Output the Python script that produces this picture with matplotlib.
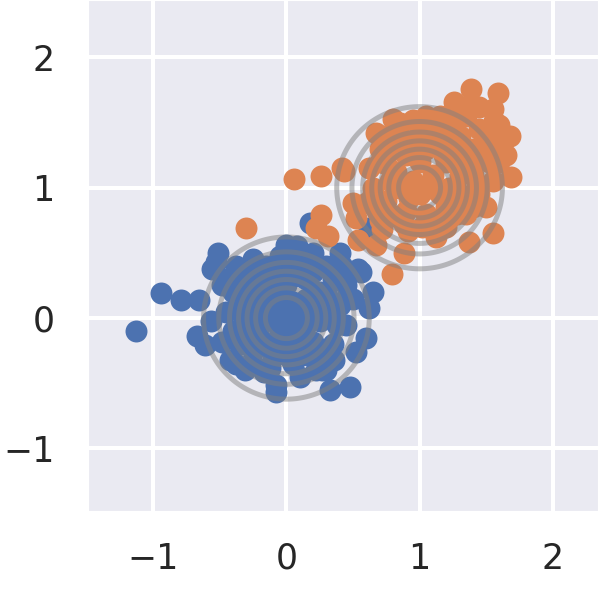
import numpy as np
import matplotlib
matplotlib.use("Agg")
import matplotlib.pyplot as plt
import seaborn as sns

sns.set_style("darkgrid")

# cluster 1 (blue) around (0, 0)
blue_x = [-1.13, -0.94, -0.79, -0.66, -0.56, -0.51, -0.53, -0.57, -0.67, -0.61,
          -0.48, -0.42, -0.31, -0.17, -0.08, -0.08, 0.33, 0.48, 0.65, 0.60,
          0.52, 0.62, 0.56, 0.00, 0.20, 0.18, 0.62, 0.40, 0.54, 0.36,
          0.27, -0.35, -0.25, -0.15, 0.10, 0.30, 0.45, 0.40, 0.45, 0.35,
          0.20, 0.05, -0.10, -0.25, -0.40, -0.45, -0.40, -0.20, -0.10, 0.05,
          0.15, 0.25, 0.15, 0.10, -0.05, -0.20, -0.32, -0.30, 0.00, 0.30,
          -0.15, 0.00, -0.05, 0.15, 0.35, -0.45, -0.35, 0.10, -0.05, 0.05,
          0.45, -0.25, 0.28,
          -0.30, -0.20, -0.10, 0.00, 0.10, 0.20, 0.30, -0.35, -0.25, -0.15,
          -0.05, 0.05, 0.15, 0.25, 0.35, -0.30, -0.20, -0.10, 0.00, 0.10,
          0.20, 0.30, -0.25, -0.12, 0.02, 0.12, 0.22, 0.38, -0.38, 0.42,
          -0.48, -0.38, 0.50, 0.30, -0.05, 0.08]
blue_y = [-0.10, 0.19, 0.14, 0.14, 0.38, 0.50, 0.43, -0.02, -0.14, -0.21,
          -0.18, -0.32, -0.40, -0.41, -0.51, -0.57, -0.55, -0.53, 0.20, -0.15,
          -0.26, 0.08, 0.35, 0.56, 0.50, 0.73, 0.69, 0.50, 0.38, -0.32,
          -0.40, 0.35, 0.45, 0.40, 0.45, 0.40, 0.25, 0.10, -0.05, -0.20,
          -0.30, -0.35, -0.30, -0.25, -0.10, 0.05, 0.20, 0.20, 0.10, 0.05,
          0.15, 0.20, -0.05, -0.15, -0.10, -0.05, 0.00, 0.25, 0.25, 0.05,
          -0.20, 0.00, 0.35, 0.30, 0.30, 0.30, -0.20, -0.45, -0.20, -0.25,
          0.15, 0.10, 0.10,
          0.30, 0.35, 0.28, 0.40, 0.32, 0.35, 0.20, 0.12, 0.15, 0.05,
          0.18, 0.12, 0.05, -0.02, 0.12, -0.12, -0.15, -0.02, -0.15, -0.05,
          -0.18, -0.25, -0.35, -0.38, -0.30, -0.28, -0.40, -0.05, 0.40, 0.40,
          0.25, -0.35, 0.15, -0.40, 0.48, 0.55]

# cluster 2 (orange) around (1, 1)
orange_x = [-0.30, 0.06, 0.26, 0.42, 0.26, 0.22, 0.31, 0.50, 0.52, 0.54,
            0.67, 0.88, 0.79, 1.37, 1.55, 1.40, 1.43, 0.91, 1.15, 1.22,
            1.39, 1.59, 1.26, 1.68, 1.69, 1.56, 0.80, 0.67, 0.43, 1.45,
            1.35, 1.50, 1.60, 1.30, 1.55, 1.65, 0.70, 0.85, 1.00, 1.15,
            1.25, 1.35, 1.40, 1.30, 1.20, 1.05, 0.90, 0.75, 0.65, 0.62,
            0.75, 0.90, 1.05, 1.20, 1.10, 0.95, 1.00, 0.85, 1.15, 0.80,
            0.60, 0.95, 1.10, 1.25, 0.70, 1.35,
            0.75, 0.85, 0.95, 1.05, 1.15, 1.25, 1.35, 1.45, 1.55, 0.80,
            0.95, 1.10, 1.25, 1.40, 1.50, 1.60, 0.70, 0.82, 1.00, 1.18,
            1.30, 1.42, 1.52, 1.62, 0.65, 0.78, 0.92, 1.08, 1.22, 1.45,
            1.28, 1.50, 1.20, 0.72, 0.88, 1.02, 1.12, 0.68]
orange_y = [0.69, 1.07, 1.09, 1.15, 0.79, 0.69, 0.63, 0.88, 0.77, 0.60,
            0.56, 0.50, 0.34, 0.58, 0.65, 0.85, 1.02, 0.67, 0.75, 0.77,
            1.76, 1.73, 1.66, 1.40, 1.08, 1.51, 1.53, 1.42, 1.13, 1.45,
            1.55, 1.30, 1.20, 1.40, 1.05, 1.25, 1.30, 1.40, 1.45, 1.42,
            1.30, 1.20, 1.10, 0.95, 0.85, 0.80, 0.82, 0.90, 1.00, 1.15,
            1.18, 1.25, 1.30, 1.20, 1.10, 1.05, 0.95, 1.00, 0.95, 0.78,
            0.88, 1.35, 1.50, 1.50, 0.75, 0.80,
            1.40, 1.50, 1.52, 1.55, 1.55, 1.58, 1.62, 1.62, 1.60, 1.30,
            1.35, 1.35, 1.35, 1.30, 1.40, 1.48, 1.20, 1.12, 1.20, 1.25,
            1.10, 1.20, 1.20, 1.35, 0.95, 1.05, 0.92, 1.00, 1.00, 0.95,
            0.80, 0.85, 0.70, 0.68, 0.72, 0.70, 0.62, 0.82]

centers = [(0.0, 0.0), (1.0, 1.0)]
sigma = 0.305
level_fracs = [1/8, 2/8, 3/8, 4/8, 5/8, 6/8, 7/8]

fig = plt.figure(figsize=(5.98, 5.98), dpi=100)
ax = fig.add_axes([88/598, 87/598, 510/598, 511/598])

ax.scatter(blue_x, blue_y, s=250, color="#4c72b0", linewidths=0, zorder=2)
ax.scatter(orange_x, orange_y, s=250, color="#dd8452", linewidths=0, zorder=2)

gx, gy = np.meshgrid(np.linspace(-1.6, 2.5, 400), np.linspace(-1.6, 2.5, 400))
for cx, cy in centers:
    z = np.exp(-((gx - cx)**2 + (gy - cy)**2) / (2 * sigma**2))
    ax.contour(gx, gy, z, levels=level_fracs, colors="gray", alpha=0.5,
               linewidths=3.6, zorder=3)

ax.set_xlim(-1.49, 2.34)
ax.set_ylim(-1.48, 2.44)
ax.set_xticks([-1, 0, 1, 2])
ax.set_yticks([-1, 0, 1, 2])
ax.grid(color="white", linewidth=2.9)
ax.tick_params(labelsize=25, length=0)
ax.tick_params(axis="x", pad=22)
ax.tick_params(axis="y", pad=24)

fig.savefig("out.png", dpi=100)
